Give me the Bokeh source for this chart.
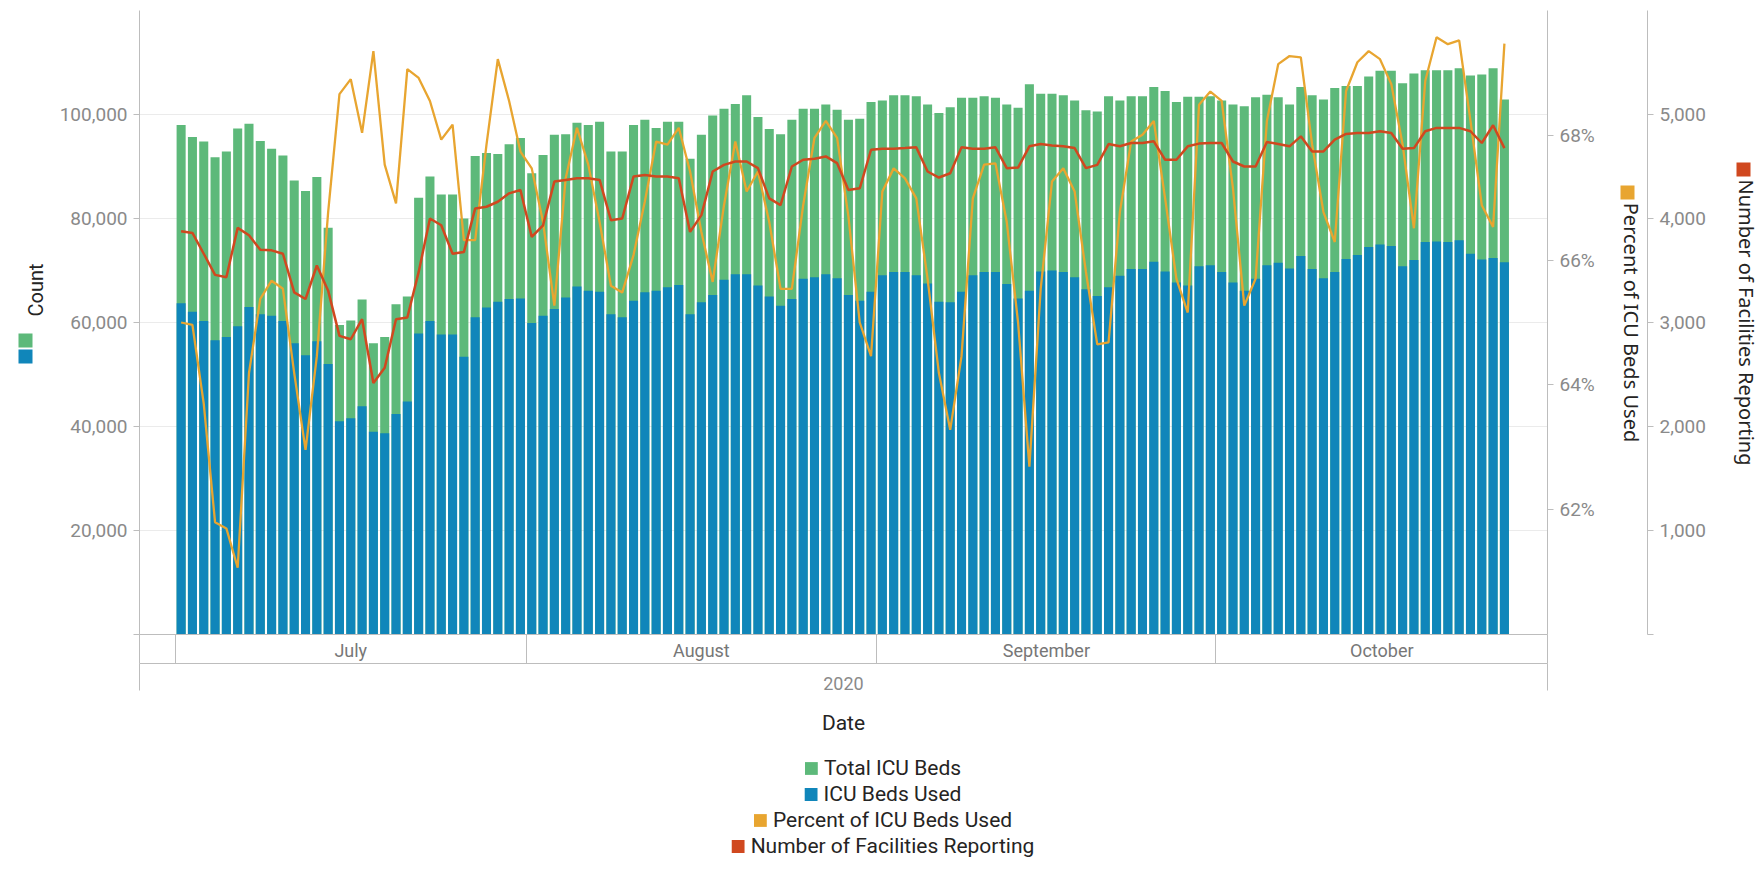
from bokeh.plotting import figure
from bokeh.layouts import column
from bokeh.models import (Range1d, LinearAxis, FixedTicker, NumeralTickFormatter,
                          PrintfTickFormatter, Legend, LegendItem, Title)
from bokeh.embed import file_html
from bokeh.resources import INLINE

# ---------------- data ----------------
months = ["July", "August", "September", "October"]
days_shown = [31, 31, 30, 26]
year_label = "2020"

total_beds = [98000, 95650, 94800, 91800, 92900, 97300, 98200, 94900, 93400, 92100,
              87300, 85300, 88000, 78200, 59500, 60400, 64400, 56000, 57200, 63500,
              65000, 84000, 88100, 84600, 84600, 80000, 92000, 92600, 92400, 94300,
              95500, 88700, 92200, 96100, 96200, 98400, 98000, 98600, 92900, 92900,
              98000, 99000, 97400, 98600, 98600, 91500, 96100, 99800, 101100, 102000,
              103700, 99500, 97200, 96200, 99000, 101100, 101100, 101900, 100900, 99000,
              99200, 102400, 102700, 103700, 103700, 103500, 101900, 100300, 101400, 103200,
              103200, 103500, 103200, 101900, 101300, 105800, 104000, 104000, 103700, 102700,
              100800, 100600, 103500, 102700, 103500, 103500, 105300, 104500, 102400, 103400,
              103400, 103500, 102700, 101900, 101600, 103300, 103800, 103300, 101900, 105300,
              103700, 102900, 105100, 105500, 105500, 107300, 108400, 108400, 106000, 107900,
              108500, 108500, 108500, 108900, 107500, 107700, 108900, 102900]

beds_used = [63700, 62050, 60300, 56600, 57200, 59300, 63000, 61600, 61300, 60300,
             56000, 53700, 56400, 52000, 41000, 41600, 43900, 39000, 38700, 42400,
             44800, 57900, 60300, 57700, 57700, 53400, 61000, 62900, 64000, 64500,
             64600, 59900, 61300, 62600, 64800, 66900, 66100, 65900, 61600, 61000,
             64200, 65800, 66100, 66800, 67200, 61600, 63900, 65300, 68200, 69300,
             69300, 67100, 65000, 63200, 64500, 68400, 68700, 69300, 68500, 65300,
             64200, 65900, 69100, 69700, 69700, 69100, 67500, 64000, 63900, 65900,
             69100, 69700, 69700, 67400, 64600, 66100, 69800, 70000, 69700, 68700,
             66400, 65100, 66800, 69000, 70300, 70300, 71700, 69800, 67700, 67100,
             70800, 71000, 69700, 67700, 66100, 68400, 71000, 71500, 70400, 72800,
             70300, 68500, 69700, 72200, 73000, 74500, 75000, 74700, 70800, 72000,
             75500, 75600, 75500, 75800, 73200, 72100, 72400, 71600]

pct_used = [65.0, 64.96, 63.7, 61.8, 61.7, 61.07, 64.19, 65.38, 65.67, 65.54,
            64.19, 62.96, 64.46, 66.77, 68.66, 68.9, 68.04, 69.35, 67.53, 66.91,
            69.06, 68.92, 68.55, 67.93, 68.17, 66.32, 66.32, 67.85, 69.22, 68.55,
            67.74, 67.47, 66.61, 65.27, 67.31, 68.12, 67.53, 66.61, 65.59, 65.48,
            66.08, 66.94, 67.9, 67.85, 68.12, 67.42, 66.45, 65.65, 66.88, 67.9,
            67.1, 67.42, 66.61, 65.54, 65.54, 66.88, 67.96, 68.23, 67.96, 66.7,
            65.0, 64.46, 67.1, 67.47, 67.31, 66.99, 65.7, 64.19, 63.28, 64.46,
            66.99, 67.53, 67.55, 66.61, 65.0, 62.69, 65.54, 67.26, 67.47, 67.1,
            65.81, 64.65, 64.68, 66.77, 67.9, 68.01, 68.23, 66.99, 65.7, 65.16,
            68.49, 68.7, 68.55, 67.15, 65.27, 65.7, 68.23, 69.14, 69.27, 69.25,
            67.85, 66.77, 66.29, 68.71, 69.17, 69.35, 69.22, 68.82, 67.85, 66.51,
            68.87, 69.57, 69.46, 69.52, 68.23, 66.88, 66.53, 69.47]

facilities = [3877, 3861, 3661, 3458, 3435, 3910, 3839, 3700, 3694, 3661,
              3290, 3226, 3548, 3306, 2871, 2839, 3032, 2419, 2565, 3032,
              3048, 3484, 4000, 3935, 3661, 3677, 4097, 4113, 4161, 4242,
              4274, 3823, 3935, 4355, 4371, 4387, 4387, 4371, 3984, 4000,
              4403, 4419, 4403, 4403, 4387, 3871, 4032, 4452, 4516, 4548,
              4548, 4484, 4194, 4129, 4500, 4565, 4574, 4597, 4532, 4274,
              4290, 4661, 4671, 4671, 4677, 4684, 4452, 4394, 4435, 4684,
              4671, 4671, 4684, 4484, 4490, 4694, 4716, 4703, 4694, 4677,
              4484, 4516, 4716, 4694, 4726, 4726, 4742, 4565, 4565, 4694,
              4720, 4726, 4726, 4548, 4500, 4500, 4735, 4716, 4694, 4790,
              4645, 4645, 4758, 4813, 4823, 4823, 4839, 4823, 4671, 4677,
              4839, 4871, 4871, 4871, 4839, 4726, 4897, 4677]

count_ticks = [0, 20000, 40000, 60000, 80000, 100000]
count_grid = [20000, 40000, 60000, 80000, 100000, 120000]
pct_ticks = [62, 64, 66, 68]
fac_ticks = [0, 1000, 2000, 3000, 4000, 5000]
series_names = ["Total ICU Beds", "ICU Beds Used", "Percent of ICU Beds Used",
                "Number of Facilities Reporting"]
series_values = [total_beds, beds_used, pct_used, facilities]

# ---------------- styling / layout ----------------
GREEN = "#5DB97A"
BLUE = "#1086BA"
ORANGE = "#E8A530"
RED = "#D0481F"
series_colors = [GREEN, BLUE, ORANGE, RED]
AXIS_GRAY = "#bdbdbd"
GRID = "#ebebeb"
TICK_TXT = "#8a8a8a"
DARK = "#252423"
FONT = "Roboto"
TITLE_FONT = "Noto Sans"

n = len(total_beds)
xs = list(range(n))
X0, X1 = -3.68, n + 2.81
FL, FW, FT, FH = 139, 1408, 10, 624     # frame geometry (page px)
BOTTOM = 121                            # month row, year row and "Date"
CMAX, PMIN, PMAX, FMAX = 120000, 60, 70, 6000
PAGE_W = 1764


def y_count(py):   # page y -> count units (positions of the title colour keys)
    return (FT + FH - py) * CMAX / FH


def y_fac(py):
    return (FT + FH - py) * FMAX / FH


p = figure(frame_width=FW, frame_height=FH, x_range=Range1d(X0, X1), y_range=Range1d(0, CMAX),
           x_axis_location=None, output_backend="svg", toolbar_location=None,
           min_border_left=FL, min_border_top=FT, min_border_right=0, min_border_bottom=BOTTOM)
p.extra_y_ranges = {"pct": Range1d(PMIN, PMAX), "fac": Range1d(0, FMAX)}
p.outline_line_color = None

p.xgrid.visible = False
p.ygrid.ticker = FixedTicker(ticks=count_grid)
p.ygrid.grid_line_color = GRID


def style_axis(ax, size="19px"):
    ax.axis_line_color = AXIS_GRAY
    ax.major_tick_line_color = AXIS_GRAY
    ax.minor_tick_line_color = None
    ax.major_tick_out = 6
    ax.major_tick_in = 0
    ax.major_label_text_font = FONT
    ax.major_label_text_font_size = size
    ax.major_label_text_color = TICK_TXT
    ax.major_label_standoff = 6
    ax.axis_label_text_font = TITLE_FONT
    ax.axis_label_text_font_size = "20px"
    ax.axis_label_text_font_style = "normal"
    ax.axis_label_text_color = DARK


def key_ticks(ax, gap, kind="major"):
    # a small coloured square drawn as a thick dashed tick (colour key beside a title)
    setattr(ax, f"{kind}_tick_line_width", 14)
    setattr(ax, f"{kind}_tick_in", 14 + 2 * gap)
    setattr(ax, f"{kind}_tick_out", 0)
    setattr(ax, f"{kind}_tick_line_dash", f"0 {gap} 14 400")


def key_axis(y_value, color, gap, range_name="default"):
    ax = LinearAxis(ticker=FixedTicker(ticks=[y_value]), major_label_overrides={y_value: ""})
    if range_name != "default":
        ax.y_range_name = range_name
    ax.axis_line_color = None
    ax.major_label_standoff = 0
    ax.major_tick_line_color = color
    key_ticks(ax, gap, "major")
    return ax


# left count axis
ya = p.yaxis[0]
style_axis(ya)
ya.ticker = FixedTicker(ticks=count_ticks)
ya.formatter = NumeralTickFormatter(format="0,0")
ya.major_label_overrides = {0: ""}

# bars and lines
p.vbar(x=xs, top=total_beds, width=0.8, fill_color=GREEN, line_color=None)
p.vbar(x=xs, top=beds_used, width=0.8, fill_color=BLUE, line_color=None)
p.line(xs, pct_used, y_range_name="pct", line_color=ORANGE, line_width=2.3)
p.line(xs, facilities, y_range_name="fac", line_color=RED, line_width=2.5)

# title "Count" + colour keys on the left
p.add_layout(Title(text="Count", align="left", offset=FT + FH - 316, standoff=18,
                   text_font=FONT, text_font_size="20px", text_font_style="normal",
                   text_color=DARK), "left")
lk = key_axis(y_count(340), GREEN, 6)
lk.ticker = FixedTicker(ticks=[y_count(340)], minor_ticks=[y_count(356)])
lk.minor_tick_line_color = BLUE
key_ticks(lk, 6, "minor")
p.add_layout(lk, "left")

# right axes
pa = LinearAxis(y_range_name="pct", ticker=FixedTicker(ticks=pct_ticks),
                formatter=PrintfTickFormatter(format="%d%%"),
                axis_label="Percent of ICU Beds Used")
style_axis(pa)
pa.axis_label_standoff = 20
p.add_layout(pa, "right")

fa = LinearAxis(y_range_name="fac", ticker=FixedTicker(ticks=fac_ticks, minor_ticks=[y_fac(192)]),
                formatter=NumeralTickFormatter(format="0,0"), bounds=(0, FMAX),
                axis_label="Number of Facilities Reporting")
style_axis(fa)
fa.major_label_overrides = {0: ""}
fa.axis_label_standoff = 24
fa.minor_tick_line_color = ORANGE
key_ticks(fa, 13, "minor")
p.add_layout(fa, "right")

p.add_layout(key_axis(y_fac(169), RED, 12, "fac"), "right")

# month row of the hierarchical date axis
eps = 0.001
seps, centers = [], []
start = -0.5
for i, d in enumerate(days_shown):
    seps.append(start)
    end = start + d if i < len(days_shown) - 1 else X1
    centers.append(round((start + end) / 2, 2))
    start += d
ma = LinearAxis(ticker=FixedTicker(ticks=centers, minor_ticks=[X0 + eps] + seps + [X1 - eps]),
                major_label_overrides=dict(zip(centers, months)))
ma.axis_line_color = AXIS_GRAY
ma.major_tick_line_color = None
ma.major_tick_out = 0
ma.minor_tick_line_color = AXIS_GRAY
ma.minor_tick_out = 29
ma.minor_tick_in = 0
ma.major_label_standoff = -24
ma.major_label_text_font = FONT
ma.major_label_text_font_size = "18px"
ma.major_label_text_color = "#777777"
p.add_layout(ma, "below")

# year row + "Date"
mid = round((X0 + X1) / 2, 2)
yr = LinearAxis(ticker=FixedTicker(ticks=[mid], minor_ticks=[X0 + eps, X1 - eps]),
                major_label_overrides={mid: year_label}, axis_label="Date")
yr.axis_line_color = AXIS_GRAY
yr.major_tick_line_color = None
yr.major_tick_out = 0
yr.minor_tick_line_color = AXIS_GRAY
yr.minor_tick_out = 27
yr.minor_tick_in = 0
yr.major_label_standoff = -14
yr.major_label_text_font = FONT
yr.major_label_text_font_size = "18px"
yr.major_label_text_color = TICK_TXT
yr.axis_label_standoff = 18
yr.axis_label_text_font = FONT
yr.axis_label_text_font_size = "21px"
yr.axis_label_text_font_style = "normal"
yr.axis_label_text_color = DARK
p.add_layout(yr, "below")

# legend: one centred row per series (each row its own strip under the chart);
# the swatch renderer carries the series but is hidden, only its legend square shows
rows = [p]
for name, color, vals in zip(series_names, series_colors, series_values):
    lf = figure(frame_width=PAGE_W, frame_height=26, x_range=Range1d(0, 1), y_range=Range1d(0, 1),
                x_axis_location=None, y_axis_location=None, toolbar_location=None,
                output_backend="svg", min_border=0)
    lf.outline_line_color = None
    lf.xgrid.visible = False
    lf.ygrid.visible = False
    swatch = lf.vbar(x=xs, top=vals, width=0.8, fill_color=color, line_color=None, visible=False)
    lf.add_layout(Legend(items=[LegendItem(label=name, renderers=[swatch])],
                         location="center", orientation="vertical",
                         border_line_color=None, background_fill_alpha=0,
                         inactive_fill_alpha=0,
                         label_text_font=FONT, label_text_font_size="21px",
                         label_text_color=DARK, glyph_width=16, glyph_height=16,
                         label_height=24, spacing=0, padding=1, margin=0, label_standoff=5))
    rows.append(lf)

layout = column(*rows, spacing=0)
open("out.html", "w").write(file_html(layout, INLINE))
